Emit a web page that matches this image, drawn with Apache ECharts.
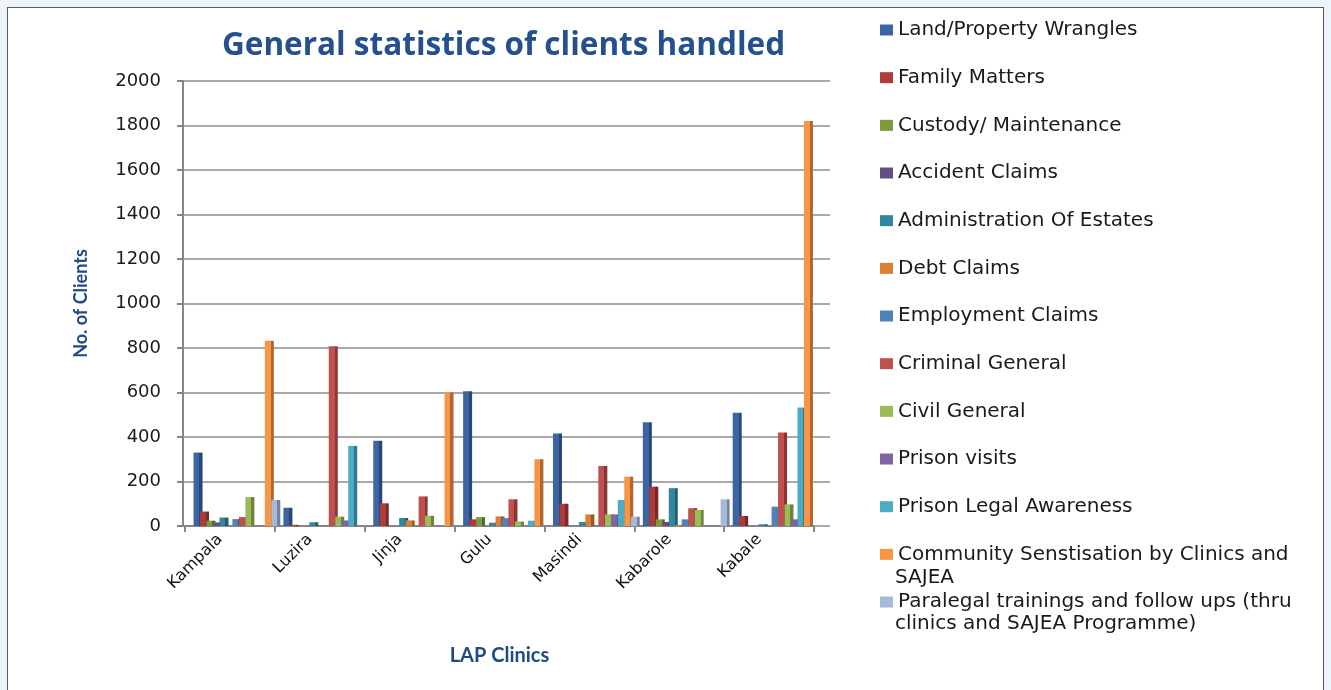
<!DOCTYPE html>
<html>
<head>
<meta charset="utf-8">
<script src="https://cdn.jsdelivr.net/npm/echarts@6/dist/echarts.min.js"></script>
<style>
html,body{margin:0;padding:0;background:#eef4fb;}
#frame{position:absolute;left:7px;top:7px;width:1317px;height:700px;background:#fff;border:1.5px solid #5a5a5a;box-sizing:border-box;}
#chart{position:absolute;left:0;top:0;width:1331px;height:690px;}
</style>
</head>
<body>
<div id="frame"></div>
<div id="chart"></div>
<script>
const categories = ['Kampala', 'Luzira', 'Jinja', 'Gulu', 'Masindi', 'Kabarole', 'Kabale'];
const seriesNames = [
  'Land/Property Wrangles',
  'Family Matters',
  'Custody/ Maintenance',
  'Accident Claims',
  'Administration Of Estates',
  'Debt Claims',
  'Employment Claims',
  'Criminal General',
  'Civil General',
  'Prison visits',
  'Prison Legal Awareness',
  'Community Senstisation by Clinics and SAJEA',
  'Paralegal trainings and follow ups (thru clinics and SAJEA Programme)'
];
const landProperty           = [330, 82, 383, 606, 416, 466, 509];
const familyMatters          = [65, 5, 102, 30, 100, 177, 45];
const custodyMaintenance     = [24, 0, 0, 40, 0, 30, 0];
const accidentClaims         = [16, 0, 0, 0, 0, 18, 0];
const administrationEstates  = [38, 17, 36, 15, 18, 170, 8];
const debtClaims             = [0, 0, 25, 43, 52, 5, 0];
const employmentClaims       = [31, 0, 0, 35, 0, 30, 87];
const criminalGeneral        = [40, 808, 133, 120, 270, 80, 420];
const civilGeneral           = [130, 42, 46, 20, 52, 72, 97];
const prisonVisits           = [0, 25, 0, 0, 52, 0, 30];
const prisonLegalAwareness   = [0, 360, 0, 24, 117, 0, 533];
const communitySensitisation = [833, 0, 600, 300, 222, 0, 1820];
const paralegalTrainings     = [117, 0, 0, 0, 42, 120, 0];
const yTicks = { min: 0, max: 2000, interval: 200 };

const seriesData = [landProperty, familyMatters, custodyMaintenance, accidentClaims,
  administrationEstates, debtClaims, employmentClaims, criminalGeneral, civilGeneral,
  prisonVisits, prisonLegalAwareness, communitySensitisation, paralegalTrainings];

const colors = ['#3b66a3', '#ab3c3a', '#7c9a3e', '#654d88', '#31879d', '#d97f36',
  '#4f81bd', '#c0504d', '#9bbb59', '#8064a2', '#4bacc6', '#f79646', '#a7b9da'];

function darken(hex, f) {
  const n = parseInt(hex.slice(1), 16);
  const r = Math.round(((n >> 16) & 255) * f), g = Math.round(((n >> 8) & 255) * f), b = Math.round((n & 255) * f);
  return 'rgb(' + r + ',' + g + ',' + b + ')';
}

const legendFirstLine = {
  'Community Senstisation by Clinics and SAJEA': 'Community Senstisation by Clinics and',
  'Paralegal trainings and follow ups (thru clinics and SAJEA Programme)': 'Paralegal trainings and follow ups (thru'
};

const series = seriesNames.map((name, i) => ({
  name: name,
  type: 'bar',
  xAxisIndex: 2,
  yAxisIndex: 2,
  data: seriesData[i],
  barWidth: 9,
  barGap: '-28%',
  itemStyle: {
    color: new echarts.graphic.LinearGradient(0, 0, 1, 0, [
      { offset: 0, color: colors[i] },
      { offset: 0.66, color: colors[i] },
      { offset: 0.66, color: darken(colors[i], 0.7) },
      { offset: 1, color: darken(colors[i], 0.7) }
    ])
  }
}));

const axisGray = '#868686';
const hiddenValueAxis = (gi) => ({ type: 'value', gridIndex: gi, show: false, min: yTicks.min, max: yTicks.max, interval: yTicks.interval, splitLine: { show: false } });

const chart = echarts.init(document.getElementById('chart'), null, { renderer: 'canvas' });
chart.setOption({
  animation: false,
  title: {
    text: 'General statistics of clients handled',
    left: 217, top: 25,
    textStyle: { fontFamily: 'Open Sans', fontWeight: 'bold', fontSize: 31.5, color: '#24508f' }
  },
  legend: {
    orient: 'vertical',
    left: 875, top: 13,
    itemWidth: 13, itemHeight: 11,
    itemGap: 23.67,
    icon: 'rect',
    data: seriesNames.map((n, i) => ({ name: n, itemStyle: { color: colors[i] } })),
    formatter: n => legendFirstLine[n] || n,
    textStyle: { fontFamily: 'DejaVu Sans', fontSize: 20, lineHeight: 24, color: '#1a1a1a' }
  },
  graphic: [
    { type: 'text', left: 895, top: 568, style: { text: 'SAJEA', font: '20px "DejaVu Sans"', fill: '#1a1a1a' } },
    { type: 'text', left: 895, top: 614, style: { text: 'clinics and SAJEA Programme)', font: '20px "DejaVu Sans"', fill: '#1a1a1a' } }
  ],
  grid: [
    { left: 183, top: 81, width: 647, height: 445, containLabel: false },
    { left: 185, top: 81, width: 629, height: 445, containLabel: false },
    { left: 192, top: 81, width: 629, height: 445, containLabel: false }
  ],
  xAxis: [
    { type: 'category', gridIndex: 0, data: categories, show: false },
    {
      type: 'category', gridIndex: 1,
      data: categories,
      name: 'LAP Clinics',
      nameLocation: 'middle',
      nameGap: 120,
      nameTextStyle: { fontFamily: 'Lato', fontWeight: 'bold', fontSize: 20, color: '#1f4a84' },
      axisLine: { lineStyle: { color: axisGray, width: 2 } },
      axisTick: { show: true, length: 6, lineStyle: { color: axisGray, width: 2 } },
      axisLabel: { rotate: 45, margin: 1, padding: [0, 14, 0, 0], fontFamily: 'DejaVu Sans', fontSize: 16, color: '#111' }
    },
    { type: 'category', gridIndex: 2, data: categories, show: false }
  ],
  yAxis: [
    {
      type: 'value', gridIndex: 0,
      min: yTicks.min, max: yTicks.max, interval: yTicks.interval,
      name: 'No. of Clients',
      nameLocation: 'middle',
      nameRotate: 90,
      nameGap: 93,
      nameTextStyle: { fontFamily: 'Lato', fontWeight: 'bold', fontSize: 18, color: '#1f4a84' },
      axisLine: { show: true, lineStyle: { color: axisGray, width: 2 } },
      axisTick: { show: true, length: 6, lineStyle: { color: axisGray, width: 2 } },
      axisLabel: { margin: 22, fontFamily: 'DejaVu Sans', fontSize: 18, color: '#1a1a1a', formatter: v => String(v) },
      splitLine: { lineStyle: { color: '#8c8c8c', width: 1.6 } }
    },
    hiddenValueAxis(1),
    hiddenValueAxis(2)
  ],
  series: series
});
</script>
</body>
</html>
